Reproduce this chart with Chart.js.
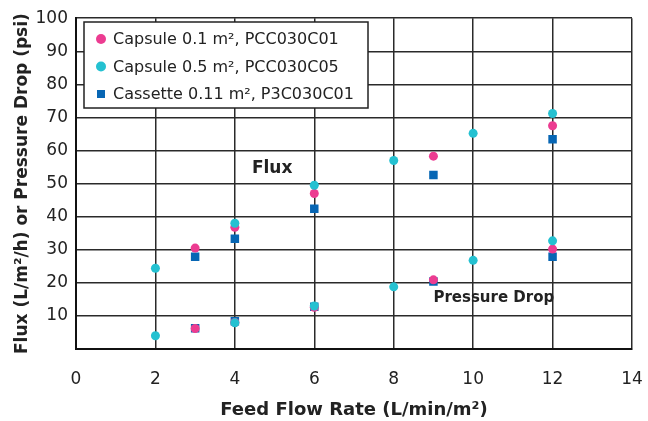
<!DOCTYPE html>
<html lang="en">
<head>
    <meta charset="UTF-8">
    <title>Flux and Pressure Drop</title>
    <script src="https://cdn.jsdelivr.net/npm/chart.js"></script>
    <style>
        html, body { margin: 0; padding: 0; background: #fff; }
        #wrap { width: 648px; height: 421px; }
    </style>
</head>
<body>
    <div id="wrap"><canvas id="fluxChart" width="648" height="421"></canvas></div>

    <script>
        // data
        const seriesNames = ["Capsule 0.1 m², PCC030C01", "Capsule 0.5 m², PCC030C05", "Cassette 0.11 m², P3C030C01"];

        const capsule01Flow = [3, 4, 6, 9, 12];
        const capsule01Flux = [30.5, 36.8, 47, 58.3, 67.5];
        const capsule01Dp = [6.2, 8, 12.6, 20.9, 30.2];

        const capsule05Flow = [2, 4, 6, 8, 10, 12];
        const capsule05Flux = [24.4, 38, 49.5, 57, 65.2, 71.2];
        const capsule05Dp = [4, 7.9, 13, 18.8, 26.8, 32.7];

        const cassetteFlow = [3, 4, 6, 9, 12];
        const cassetteFlux = [27.9, 33.3, 42.4, 52.6, 63.4];
        const cassetteDp = [6.3, 8.4, 12.8, 20.4, 27.9];

        const xTicks = [0, 2, 4, 6, 8, 10, 12, 14];
        const yTicks = [0, 10, 20, 30, 40, 50, 60, 70, 80, 90, 100];

        const colors = ['#ec3c91', '#24c1d1', '#0766b4'];
        const textColor = '#222';

        function points(xs, flux, dp) {
            const out = [];
            xs.forEach((x, i) => out.push({ x: x, y: flux[i] }));
            xs.forEach((x, i) => out.push({ x: x, y: dp[i] }));
            return out;
        }

        // legend + the two labels inside the plot
        const extras = {
            id: 'extras',
            afterDatasetsDraw(chart) {
                const ctx = chart.ctx;
                const xs = chart.scales.x, ys = chart.scales.y;
                ctx.save();
                ctx.fillStyle = textColor;
                ctx.textAlign = 'center';
                ctx.textBaseline = 'middle';
                ctx.font = 'bold 17px "DejaVu Sans"';
                ctx.fillText('Flux', xs.getPixelForValue(4.94), ys.getPixelForValue(54.6));
                ctx.font = 'bold 15px "DejaVu Sans"';
                ctx.fillText('Pressure Drop', xs.getPixelForValue(10.52), ys.getPixelForValue(15.4));

                // legend box
                const bx = 84, by = 22, bw = 284, bh = 86;
                ctx.fillStyle = '#fff';
                ctx.fillRect(bx, by, bw, bh);
                ctx.strokeStyle = '#222';
                ctx.lineWidth = 1.5;
                ctx.strokeRect(bx, by, bw, bh);
                ctx.font = '16px "DejaVu Sans"';
                ctx.textAlign = 'left';
                seriesNames.forEach((name, i) => {
                    const cy = by + 17 + i * 27.5;
                    ctx.fillStyle = colors[i];
                    if (i < 2) {
                        ctx.beginPath();
                        ctx.arc(bx + 17, cy, 5, 0, Math.PI * 2);
                        ctx.fill();
                    } else {
                        ctx.fillRect(bx + 13, cy - 4, 8, 8);
                    }
                    ctx.fillStyle = textColor;
                    ctx.fillText(name, bx + 29, cy + 1);
                });
                ctx.restore();
            }
        };

        const ctx = document.getElementById('fluxChart').getContext('2d');
        const fluxChart = new Chart(ctx, {
            type: 'scatter',
            data: {
                datasets: [
                    {
                        label: seriesNames[0],
                        data: points(capsule01Flow, capsule01Flux, capsule01Dp),
                        backgroundColor: colors[0],
                        borderWidth: 0,
                        pointStyle: 'circle',
                        pointRadius: 4.5,
                        order: 2
                    },
                    {
                        label: seriesNames[1],
                        data: points(capsule05Flow, capsule05Flux, capsule05Dp),
                        backgroundColor: colors[1],
                        borderWidth: 0,
                        pointStyle: 'circle',
                        pointRadius: 4.5,
                        order: 1
                    },
                    {
                        label: seriesNames[2],
                        data: points(cassetteFlow, cassetteFlux, cassetteDp),
                        backgroundColor: colors[2],
                        borderWidth: 0,
                        pointStyle: 'rect',
                        pointRadius: 6,
                        order: 3
                    }
                ]
            },
            options: {
                responsive: false,
                animation: false,
                layout: { padding: { left: 0, top: 18, right: 16, bottom: 0 } },
                plugins: {
                    legend: { display: false },
                    tooltip: { enabled: false }
                },
                scales: {
                    x: {
                        type: 'linear',
                        min: 0,
                        max: 14,
                        afterBuildTicks(scale) { scale.ticks = xTicks.map(v => ({ value: v })); },
                        afterFit(scale) {
                            scale.height = 72;
                            scale.paddingRight = 0;
                            scale.paddingLeft = 0;
                        },
                        ticks: {
                            padding: 20,
                            color: textColor,
                            font: { family: 'DejaVu Sans', size: 17 }
                        },
                        grid: { color: '#2a2a2a', lineWidth: 1.5, drawTicks: false },
                        border: { color: '#111', width: 2 },
                        title: {
                            display: true,
                            text: 'Feed Flow Rate (L/min/m²)',
                            color: textColor,
                            font: { family: 'DejaVu Sans', size: 18, weight: 'bold' },
                            padding: { top: 10, bottom: 0 }
                        }
                    },
                    y: {
                        min: 0,
                        max: 100,
                        afterBuildTicks(scale) { scale.ticks = yTicks.map(v => ({ value: v })); },
                        afterFit(scale) { scale.width = 76; },
                        ticks: {
                            padding: 8,
                            color: textColor,
                            font: { family: 'DejaVu Sans', size: 17 },
                            callback: v => v === 0 ? '' : v
                        },
                        grid: { color: '#2a2a2a', lineWidth: 1.5, drawTicks: false },
                        border: { color: '#111', width: 2 },
                        title: {
                            display: true,
                            text: 'Flux (L/m²/h) or Pressure Drop (psi)',
                            color: textColor,
                            font: { family: 'DejaVu Sans', size: 17, weight: 'bold' },
                            padding: { top: 12, bottom: 0 }
                        }
                    }
                }
            },
            plugins: [extras]
        });
    </script>
</body>
</html>
